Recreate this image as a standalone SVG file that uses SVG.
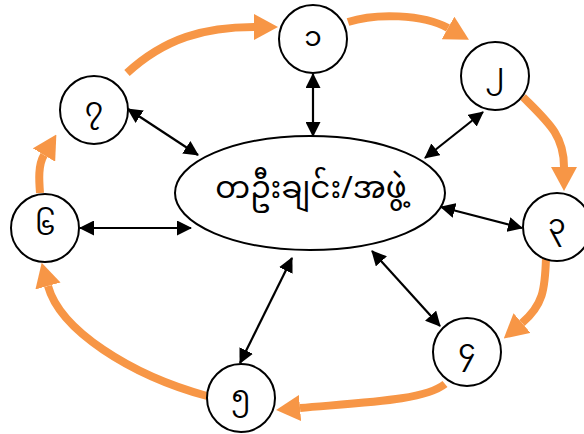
<svg xmlns="http://www.w3.org/2000/svg" width="584" height="434" viewBox="0 0 584 434">
<style>
.node circle{fill:#fff;stroke:#000;stroke-width:2}
.node ellipse{fill:#fff;stroke:#000;stroke-width:2}
.lbl{font-family:"Noto Sans Myanmar","Padauk","Myanmar Text","Noto Sans","DejaVu Sans",sans-serif;font-size:28px;fill:#000;text-anchor:middle;dominant-baseline:central}
.big{font-size:31px}
.flow{fill:none;stroke:#F79646;stroke-width:8;marker-end:url(#oh)}
.link{fill:none;stroke:#000;stroke-width:2.2;marker-start:url(#bh);marker-end:url(#bh)}
</style>
<defs>
<marker id="oh" markerUnits="userSpaceOnUse" viewBox="0 0 24 26" markerWidth="24" markerHeight="26" refX="0" refY="13" orient="auto">
<path d="M0,0 L24,13 L0,26 Z" fill="#F79646"/>
</marker>
<marker id="bh" markerUnits="userSpaceOnUse" viewBox="0 0 15 15" markerWidth="15" markerHeight="15" refX="14" refY="7.5" orient="auto-start-reverse">
<path d="M0,0 L15,7.5 L0,15 Z" fill="#000"/>
</marker>
</defs>
<g id="connectors">
<path class="flow" d="M127,73 C165,38 205,27 254,27"/>
<path class="flow" d="M348,22 C375,13 423,14 448,28"/>
<path class="flow" d="M523,97 C548,122 564,135 564,167"/>
<path class="flow" d="M546,258 C545,290 543,305 522,323"/>
<path class="flow" d="M445,384 C425,400 370,402 300,408"/>
<path class="flow" d="M207,396 C130,375 60,330 48,286"/>
<path class="flow" d="M40,193 C39,180 38,165 44,155"/>
<path class="link" d="M313,74 L313,136"/>
<path class="link" d="M483,112 L425,158"/>
<path class="link" d="M441,207 L522,228"/>
<path class="link" d="M372,251 L440,326"/>
<path class="link" d="M292,258 L240,363"/>
<path class="link" d="M80,228 L191,228"/>
<path class="link" d="M128,109 L198,155"/>
</g>
<g id="center" class="node"><ellipse cx="310" cy="193" rx="135" ry="57"/><text class="lbl big" x="311" y="191">တဦးချင်း/အဖွဲ့</text></g>
<g id="n1" class="node"><circle cx="313" cy="39" r="34"/><text class="lbl" x="313" y="39">၁</text></g>
<g id="n2" class="node"><circle cx="495" cy="76" r="34"/><text class="lbl" x="495" y="76">၂</text></g>
<g id="n3" class="node"><circle cx="557" cy="227" r="34"/><text class="lbl" x="557" y="227">၃</text></g>
<g id="n4" class="node"><circle cx="467" cy="352" r="34"/><text class="lbl" x="467" y="352">၄</text></g>
<g id="n5" class="node"><circle cx="241" cy="398" r="34"/><text class="lbl" x="241" y="398">၅</text></g>
<g id="n6" class="node"><circle cx="45" cy="228" r="34"/><text class="lbl" x="45" y="228">၆</text></g>
<g id="n7" class="node"><circle cx="94" cy="110" r="34"/><text class="lbl" x="94" y="110">၇</text></g>
</svg>
